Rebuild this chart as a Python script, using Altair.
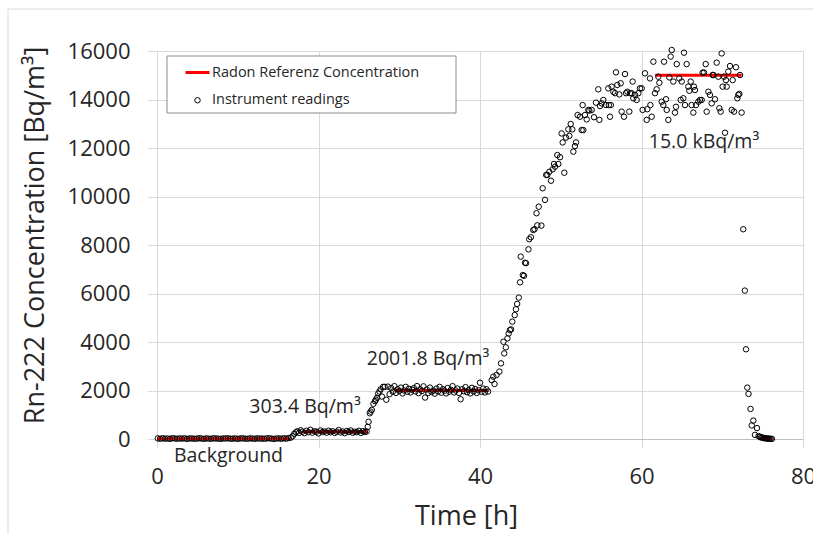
import altair as alt
import pandas as pd

SERIES = ["Radon Referenz Concentration", "Instrument readings"]

# --- Instrument readings (time [h], concentration [Bq/m3]) ---
bg_t = [0.1, 0.4, 0.7, 1.0, 1.3, 1.6, 1.9, 2.2, 2.5, 2.8, 3.1, 3.4, 3.7, 4.0, 4.3, 4.6,
        4.9, 5.2, 5.5, 5.8, 6.1, 6.4, 6.7, 7.0, 7.3, 7.6, 7.9, 8.2, 8.5, 8.8, 9.1, 9.4,
        9.7, 10.0, 10.3, 10.6, 10.9, 11.2, 11.5, 11.8, 12.1, 12.4, 12.7, 13.0, 13.3, 13.6,
        13.9, 14.2, 14.5, 14.8, 15.1, 15.4, 15.7, 16.0, 16.3, 16.6]
bg_c = [25, 10, 30, 15, 20, 5, 35, 20, 10, 25,
        15, 30, 5, 20, 25, 10, 15, 30, 20, 5,
        25, 15, 10, 30, 20, 15, 5, 25, 20, 30,
        10, 15, 25, 5, 20, 30, 15, 10, 25, 20,
        5, 30, 15, 20, 10, 25, 30, 15, 5, 20,
        25, 10, 30, 15, 40, 60]

low_t = [16.8, 17.0, 17.2, 17.4, 17.6, 17.8, 18.0, 18.25, 18.5, 18.75, 19.0, 19.25, 19.5,
         19.75, 20.0, 20.25, 20.5, 20.75, 21.0, 21.25, 21.5, 21.75, 22.0, 22.25, 22.5,
         22.75, 23.0, 23.25, 23.5, 23.75, 24.0, 24.25, 24.5, 24.75, 25.0, 25.25, 25.5,
         25.75, 25.95]
low_c = [120, 210, 280, 320, 250, 360, 300, 240, 340, 280,
         380, 260, 320, 300, 230, 350, 290, 310, 260, 340,
         280, 320, 250, 300, 370, 270, 310, 240, 330, 290,
         350, 260, 300, 280, 340, 250, 320, 290, 310]

step_pts = [(26.1, 500), (26.2, 710), (26.35, 1060), (26.45, 1130), (26.6, 1200),
            (26.8, 1450), (27.0, 1560), (27.1, 1620), (27.25, 1700), (27.4, 1880),
            (27.55, 1960), (27.7, 2050), (27.85, 1750), (28.0, 2150)]

mid_t = [28.2, 28.4, 28.6, 28.8, 29.0, 29.2, 29.4, 29.6, 29.8, 30.0,
         30.2, 30.4, 30.6, 30.8, 31.0, 31.2, 31.4, 31.6, 31.8, 32.0,
         32.2, 32.4, 32.6, 32.8, 33.0, 33.2, 33.4, 33.6, 33.8, 34.0,
         34.2, 34.4, 34.6, 34.8, 35.0, 35.2, 35.4, 35.6, 35.8, 36.0,
         36.2, 36.4, 36.6, 36.8, 37.0, 37.2, 37.4, 37.6, 37.8, 38.0,
         38.2, 38.4, 38.6, 38.8, 39.0, 39.2, 39.4, 39.6, 39.8, 40.0,
         40.2, 40.4, 40.6, 40.8, 41.0]
mid_c = [2150, 1620, 2160, 1850, 2100, 1950, 2180, 1900, 2050, 1980,
         2120, 1880, 2000, 2150, 1950, 2070, 1920, 2030, 2100, 1960,
         2180, 1890, 2050, 1980, 2170, 1710, 2040, 1900, 2120, 1940,
         2000, 1870, 2080, 1960, 2150, 1910, 2050, 1990, 1880, 2100,
         1950, 2030, 2180, 1920, 2000, 2080, 1900, 1640, 2050, 1970,
         2140, 1930, 2020, 1880, 2110, 1960, 2060, 1900, 2010, 2320,
         1950, 2080, 1920, 2050, 1960]

high_pts = [
    (41.45, 2430), (41.65, 2570), (41.8, 2270), (42.05, 2640), (42.4, 2780), (42.6, 3120),
    (42.9, 4010), (43.0, 3530), (43.2, 3780), (43.4, 4150), (43.55, 4350), (43.7, 4490),
    (43.85, 4520), (44.0, 4840), (44.3, 5110), (44.45, 5350), (44.6, 5570), (44.8, 5830),
    (44.96, 6460), (45.04, 7520), (45.3, 6760), (45.45, 6730), (45.57, 7270), (45.7, 7250),
    (46.0, 7820), (46.1, 8240), (46.3, 8320), (46.6, 8620), (46.75, 8650), (47.0, 9310),
    (47.1, 8810), (47.27, 9580), (47.6, 8800), (47.76, 10340), (48.05, 9860), (48.2, 10890),
    (48.34, 10890), (48.59, 11020), (48.79, 10650), (49.0, 11120), (49.16, 11340),
    (49.29, 11230), (49.58, 11710), (49.7, 11340), (49.91, 11620), (50.11, 12600),
    (50.24, 12230), (50.44, 10980), (50.65, 12430), (50.94, 12770), (51.06, 12500),
    (51.23, 12990), (51.43, 12770), (51.56, 11850), (51.76, 12080), (51.89, 12230),
    (52.09, 13360), (52.38, 13290), (52.59, 12740), (52.71, 13770), (52.8, 12740),
    (53.0, 13360), (53.21, 13180), (53.42, 13570), (53.54, 13540), (53.83, 13570),
    (54.12, 13270), (54.36, 13870), (54.65, 14420), (54.78, 13160), (54.86, 13730),
    (55.07, 13840), (55.27, 13980), (55.6, 13770), (55.89, 14460), (55.95, 13770),
    (56.1, 13290), (56.2, 13770), (56.3, 14530), (56.51, 14320), (56.72, 14260),
    (56.84, 15120), (57.0, 14600), (57.25, 14210), (57.42, 14670), (57.54, 13500),
    (57.83, 13290), (57.96, 15050), (58.08, 14260), (58.25, 14320), (58.49, 13500),
    (58.58, 14260), (58.78, 14260), (58.9, 14740), (58.99, 14050), (59.2, 14190),
    (59.4, 13980), (59.61, 14260), (59.81, 14460), (60.02, 14460), (60.14, 13570),
    (60.43, 15080), (60.64, 13160), (60.72, 13600), (61.05, 14870), (61.1, 13770),
    (61.26, 13290), (61.47, 15560), (61.67, 14260), (61.88, 14420), (62.09, 14940),
    (62.21, 14690), (62.5, 13910), (62.7, 13770), (62.79, 15560), (63.04, 14010),
    (63.12, 13570), (63.32, 13160), (63.45, 14910), (63.61, 15770), (63.74, 16040),
    (63.94, 14740), (64.15, 13460), (64.27, 13700), (64.36, 15460), (64.68, 14870),
    (64.85, 13980), (64.98, 14740), (65.18, 14050), (65.26, 15930), (65.39, 13770),
    (65.59, 15460), (65.8, 14530), (65.92, 14360), (66.09, 14740), (66.21, 13770),
    (66.42, 13460), (66.5, 14530), (66.62, 14390), (66.75, 13770), (67.04, 13910),
    (67.24, 13980), (67.45, 13980), (67.57, 15110), (67.74, 15110), (67.95, 15460),
    (68.07, 13500), (68.28, 14320), (68.48, 14190), (68.69, 13840), (68.81, 15010),
    (68.9, 15010), (69.1, 14010), (69.31, 15520), (69.52, 14940), (69.64, 13640),
    (69.8, 13500), (69.93, 15900), (70.05, 14530), (70.22, 14940), (70.34, 12630),
    (70.46, 14800), (70.55, 14530), (70.75, 15150), (70.96, 15380), (71.17, 13570),
    (71.29, 14800), (71.46, 13500), (71.7, 15330), (71.87, 14050), (71.99, 14190),
    (72.12, 14230), (72.2, 15010), (72.4, 13460)]

drop_pts = [(72.6, 8650), (72.8, 6120), (72.94, 3700), (73.1, 2120), (73.25, 1860),
            (73.5, 1240), (73.65, 560), (73.85, 760), (74.05, 170), (74.3, 450),
            (74.5, 120), (74.65, 90), (74.8, 70), (74.95, 60), (75.1, 40), (75.25, 35),
            (75.4, 25), (75.55, 20), (75.7, 15), (75.85, 10), (76.0, 10), (76.15, 5)]

# --- Reference concentration segments ---
ref_seg = [0, 0, 1, 1, 2, 2, 3, 3, 4, 4]
ref_t = [0.0, 16.5, 18.0, 26.0, 29.5, 41.0, 61.7, 72.4, 74.5, 76.2]
ref_c = [12, 12, 303.4, 303.4, 2001.8, 2001.8, 15000, 15000, 12, 12]

# --- Annotations ---
ann_text = ["Background", "303.4 Bq/m³", "2001.8 Bq/m³", "15.0 kBq/m³"]
ann_t = [8.85, 18.33, 33.56, 67.74]
ann_c = [-950, 1060, 3050, 12000]

x_ticks = [0, 20, 40, 60, 80]
y_ticks = [0, 2000, 4000, 6000, 8000, 10000, 12000, 14000, 16000]

# ----------------------------------------------------------------
all_t = bg_t + low_t + [p[0] for p in step_pts] + mid_t + [p[0] for p in high_pts] + [p[0] for p in drop_pts]
all_c = bg_c + low_c + [p[1] for p in step_pts] + mid_c + [p[1] for p in high_pts] + [p[1] for p in drop_pts]
readings = pd.DataFrame({"t": all_t, "c": all_c, "series": SERIES[1]})
refs = pd.DataFrame({"t": ref_t, "c": ref_c, "seg": ref_seg, "series": SERIES[0]})
ann = pd.DataFrame({"t": ann_t, "c": ann_c, "label": ann_text})

FONT = "Open Sans"
TXT = "#262626"

leg = alt.Legend(title=None, orient="none", legendX=27, legendY=8, padding=0,
                 labelFont=FONT, labelFontSize=14.5, labelColor=TXT, labelOffset=1,
                 labelLimit=400, rowPadding=13, symbolOpacity=1)

x_enc = alt.X("t:Q", scale=alt.Scale(domain=[0, 80], nice=False, zero=False),
              axis=alt.Axis(values=x_ticks, title="Time [h]", titleX=309, titleY=85,
                            titleAlign="center", titleBaseline="alphabetic",
                            labelPadding=18, labelFlush=False, domainColor="#bfbfbf"))
y_enc = alt.Y("c:Q", scale=alt.Scale(domain=[0, 16000], nice=False),
              axis=alt.Axis(values=y_ticks, format="d", title="Rn-222 Concentration [Bq/m³]",
                            titleX=-114, titleY=184, titleAlign="center", titleAngle=270,
                            titleBaseline="alphabetic", labelPadding=18, labelFlush=False,
                            domainColor="#d9d9d9"))

color = alt.Color("series:N", scale=alt.Scale(domain=SERIES, range=["#ff0000", "#000000"]), legend=leg)
swidth = alt.StrokeWidth("series:N", scale=alt.Scale(domain=SERIES, range=[3, 1]), legend=leg)
shape = alt.Shape("series:N", scale=alt.Scale(domain=SERIES, range=["stroke", "circle"]), legend=leg)
size = alt.Size("series:N", scale=alt.Scale(domain=SERIES, range=[576, 30]), legend=leg)

one = pd.DataFrame({"k": [0]})
frame_left = alt.Chart(one).mark_rule(color="#d9d9d9", strokeWidth=1).encode(
    x=alt.value(-149), y=alt.value(-42), y2=alt.value(483))
frame_top = alt.Chart(one).mark_rule(color="#d9d9d9", strokeWidth=1).encode(
    x=alt.value(-149), x2=alt.value(656), y=alt.value(-42))
legend_box = alt.Chart(one).mark_rect(fill="white", stroke="#8c8c8c", strokeWidth=1).encode(
    x=alt.value(10), x2=alt.value(299), y=alt.value(5), y2=alt.value(62))

lines = alt.Chart(refs).mark_line().encode(
    x=x_enc, y=y_enc, detail="seg:N", color=color, strokeWidth=swidth)

points = alt.Chart(readings).mark_point(filled=False, opacity=1).encode(
    x=x_enc, y=y_enc, color=color, strokeWidth=swidth, shape=shape, size=size)

labels = alt.Chart(ann).mark_text(font=FONT, fontSize=19.5, color=TXT, align="center",
                                  baseline="alphabetic").encode(
    x=alt.X("t:Q"), y=alt.Y("c:Q"), text="label:N")

chart = alt.layer(frame_left, frame_top, legend_box, lines, points, labels).properties(
    width=646, height=388, autosize="none",
    padding={"left": 157, "top": 51, "right": 10, "bottom": 95},
).configure_view(strokeWidth=0).configure_axis(
    gridColor="#d9d9d9", gridWidth=1, tickColor="#d9d9d9", tickSize=9,
    labelFont=FONT, labelFontSize=22, labelColor=TXT,
    titleFont=FONT, titleFontSize=27, titleColor=TXT, titleFontWeight="normal",
)

chart.save("out.html", embed_options={"renderer": "svg", "actions": False})
